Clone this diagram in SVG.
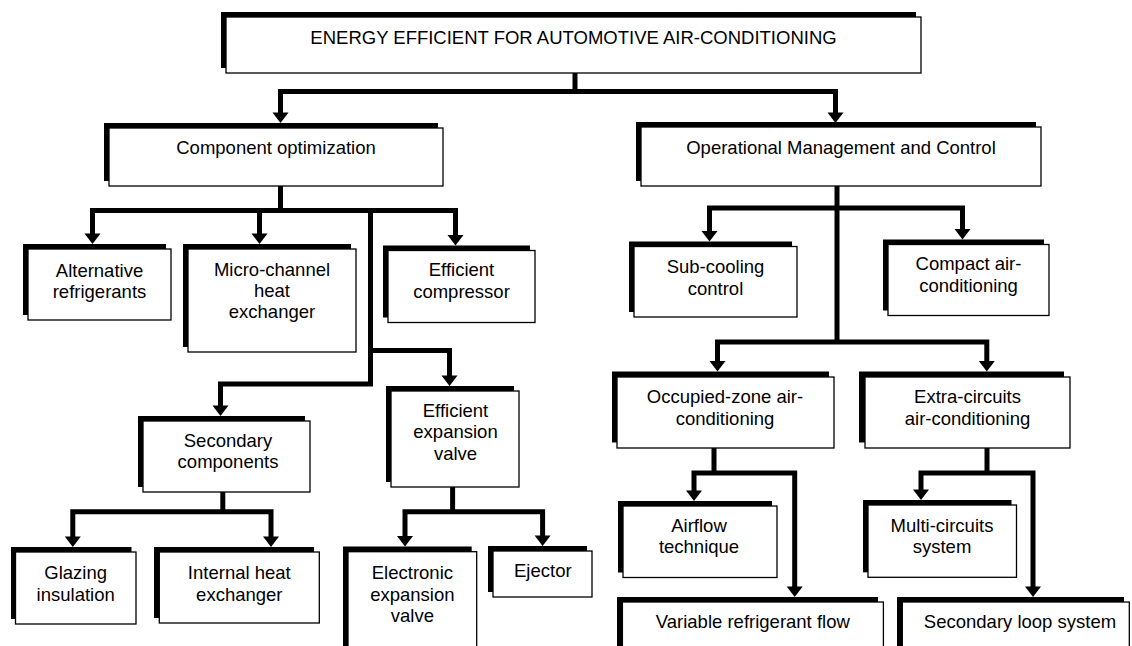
<svg xmlns="http://www.w3.org/2000/svg" width="1132" height="646" viewBox="0 0 1132 646">
<defs>
<style>
.sh{fill:#000}
.bx{fill:#fff;stroke:#000;stroke-width:1.3}
text{font-family:"Liberation Sans",Arial,sans-serif;font-size:18.5px;fill:#000;text-anchor:middle}
.c{fill:none;stroke:#000;stroke-width:5;stroke-linejoin:miter;stroke-linecap:butt}
.ah{fill:#000}
</style>
<polygon id="ah" class="ah" points="-8,-10.5 8,-10.5 0,0"/>
</defs>
<rect width="1132" height="646" fill="#fff"/>

<g id="connectors">
<path class="c" d="M575,73 V91.5"/>
<path class="c" d="M280.5,114 V91.5 H835.5 V114"/>
<use href="#ah" x="280.5" y="123"/>
<use href="#ah" x="835.5" y="123"/>

<path class="c" d="M280.5,186 V210.5"/>
<path class="c" d="M92.5,235 V210.5 H455.5 V236.5"/>
<path class="c" d="M259.5,210.5 V235"/>
<use href="#ah" x="92.5" y="244"/>
<use href="#ah" x="259.5" y="244"/>
<use href="#ah" x="455.5" y="245.5"/>
<path class="c" d="M370.5,210.5 V384 H220.5 V407"/>
<use href="#ah" x="220.5" y="416"/>
<path class="c" d="M370.5,350.5 H449.5 V377"/>
<use href="#ah" x="449.5" y="386"/>

<path class="c" d="M222.8,492 V511.7"/>
<path class="c" d="M72.8,538 V511.7 H271 V538"/>
<use href="#ah" x="72.8" y="547"/>
<use href="#ah" x="271" y="547"/>

<path class="c" d="M452.6,487 V511.7"/>
<path class="c" d="M405,537.5 V511.7 H542.6 V537"/>
<use href="#ah" x="405" y="546.5"/>
<use href="#ah" x="542.6" y="546"/>

<path class="c" d="M837,186 V342"/>
<path class="c" d="M709.5,232.5 V208 H962.5 V230.5"/>
<use href="#ah" x="709.5" y="241.5"/>
<use href="#ah" x="962.5" y="239.5"/>
<path class="c" d="M717.5,362.5 V342 H986.8 V362.5"/>
<use href="#ah" x="717.5" y="371.5"/>
<use href="#ah" x="986.8" y="371.5"/>

<path class="c" d="M714,448 V473"/>
<path class="c" d="M694,492 V473 H794.7 V588"/>
<use href="#ah" x="694" y="501"/>
<use href="#ah" x="794.7" y="597"/>

<path class="c" d="M987,448 V473"/>
<path class="c" d="M921,491 V473 H1033 V588"/>
<use href="#ah" x="921" y="500"/>
<use href="#ah" x="1033" y="597"/>
</g>

<g id="n-title">
<rect class="sh" x="221" y="12" width="695" height="56"/>
<rect class="bx" x="226" y="17" width="695" height="56"/>
<text x="573.5" y="44">ENERGY EFFICIENT FOR AUTOMOTIVE AIR-CONDITIONING</text>
</g>

<g id="n-component">
<rect class="sh" x="104" y="123" width="334" height="58"/>
<rect class="bx" x="109" y="128" width="334" height="58"/>
<text x="276" y="154">Component optimization</text>
</g>

<g id="n-operational">
<rect class="sh" x="636" y="122" width="400" height="59"/>
<rect class="bx" x="641" y="127" width="400" height="59"/>
<text x="841" y="153.5">Operational Management and Control</text>
</g>

<g id="n-alt">
<rect class="sh" x="23" y="244" width="143" height="71"/>
<rect class="bx" x="28" y="249" width="143" height="71"/>
<text x="99.5" y="277">Alternative</text>
<text x="99.5" y="297.5">refrigerants</text>
</g>

<g id="n-micro">
<rect class="sh" x="183" y="244" width="168" height="103"/>
<rect class="bx" x="188" y="249" width="168" height="103"/>
<text x="272" y="276">Micro-channel</text>
<text x="272" y="297">heat</text>
<text x="272" y="318">exchanger</text>
</g>

<g id="n-effcomp">
<rect class="sh" x="383" y="245.5" width="147" height="72"/>
<rect class="bx" x="388" y="250.5" width="147" height="72"/>
<text x="461.5" y="276">Efficient</text>
<text x="461.5" y="297.5">compressor</text>
</g>

<g id="n-subcool">
<rect class="sh" x="629" y="241.5" width="163" height="70.5"/>
<rect class="bx" x="634" y="246.5" width="163" height="70.5"/>
<text x="715.5" y="273">Sub-cooling</text>
<text x="715.5" y="295">control</text>
</g>

<g id="n-compact">
<rect class="sh" x="883" y="239.5" width="161" height="71"/>
<rect class="bx" x="888" y="244.5" width="161" height="71"/>
<text x="968.5" y="270">Compact air-</text>
<text x="968.5" y="292">conditioning</text>
</g>

<g id="n-secondary">
<rect class="sh" x="138" y="416" width="167" height="71"/>
<rect class="bx" x="143" y="421" width="167" height="71"/>
<text x="228" y="446.7">Secondary</text>
<text x="228" y="468.3">components</text>
</g>

<g id="n-effexp">
<rect class="sh" x="386" y="386" width="128" height="96"/>
<rect class="bx" x="391" y="391" width="128" height="96"/>
<text x="455.5" y="416.7">Efficient</text>
<text x="455.5" y="438.3">expansion</text>
<text x="455.5" y="460">valve</text>
</g>

<g id="n-occupied">
<rect class="sh" x="612" y="371.5" width="217" height="71"/>
<rect class="bx" x="617" y="377" width="217" height="71"/>
<text x="725" y="403">Occupied-zone air-</text>
<text x="725" y="425">conditioning</text>
</g>

<g id="n-extra">
<rect class="sh" x="859" y="371.5" width="205" height="71"/>
<rect class="bx" x="865" y="377" width="205" height="71"/>
<text x="967.5" y="403">Extra-circuits</text>
<text x="967.5" y="425">air-conditioning</text>
</g>

<g id="n-glazing">
<rect class="sh" x="11" y="547" width="120.5" height="72"/>
<rect class="bx" x="15.5" y="552" width="120.5" height="72"/>
<text x="75.7" y="579.3">Glazing</text>
<text x="75.7" y="600.7">insulation</text>
</g>

<g id="n-ihe">
<rect class="sh" x="154" y="547" width="160" height="71"/>
<rect class="bx" x="159.3" y="552" width="160" height="71"/>
<text x="239.3" y="579.3">Internal heat</text>
<text x="239.3" y="600.7">exchanger</text>
</g>

<g id="n-eev">
<rect class="sh" x="343" y="546.5" width="128.7" height="100"/>
<rect class="bx" x="348" y="551.7" width="128.7" height="100"/>
<text x="412.4" y="579.3">Electronic</text>
<text x="412.4" y="600.7">expansion</text>
<text x="412.4" y="621.7">valve</text>
</g>

<g id="n-ejector">
<rect class="sh" x="488" y="546" width="99" height="46"/>
<rect class="bx" x="493" y="551" width="99" height="46"/>
<text x="542.8" y="576.7">Ejector</text>
</g>

<g id="n-airflow">
<rect class="sh" x="618" y="501" width="154" height="71.5"/>
<rect class="bx" x="623" y="506" width="154" height="71.5"/>
<text x="699" y="531.7">Airflow</text>
<text x="699" y="553.3">technique</text>
</g>

<g id="n-multi">
<rect class="sh" x="863" y="500" width="148.5" height="72.3"/>
<rect class="bx" x="868" y="505" width="148.5" height="72.3"/>
<text x="942" y="531.7">Multi-circuits</text>
<text x="942" y="552.7">system</text>
</g>

<g id="n-vrf">
<rect class="sh" x="617" y="597" width="261" height="60"/>
<rect class="bx" x="622.4" y="602" width="261" height="60"/>
<text x="752.8" y="628">Variable refrigerant flow</text>
</g>

<g id="n-sls">
<rect class="sh" x="897" y="597" width="227" height="60"/>
<rect class="bx" x="902.3" y="602" width="227" height="60"/>
<text x="1020" y="628">Secondary loop system</text>
</g>
</svg>
